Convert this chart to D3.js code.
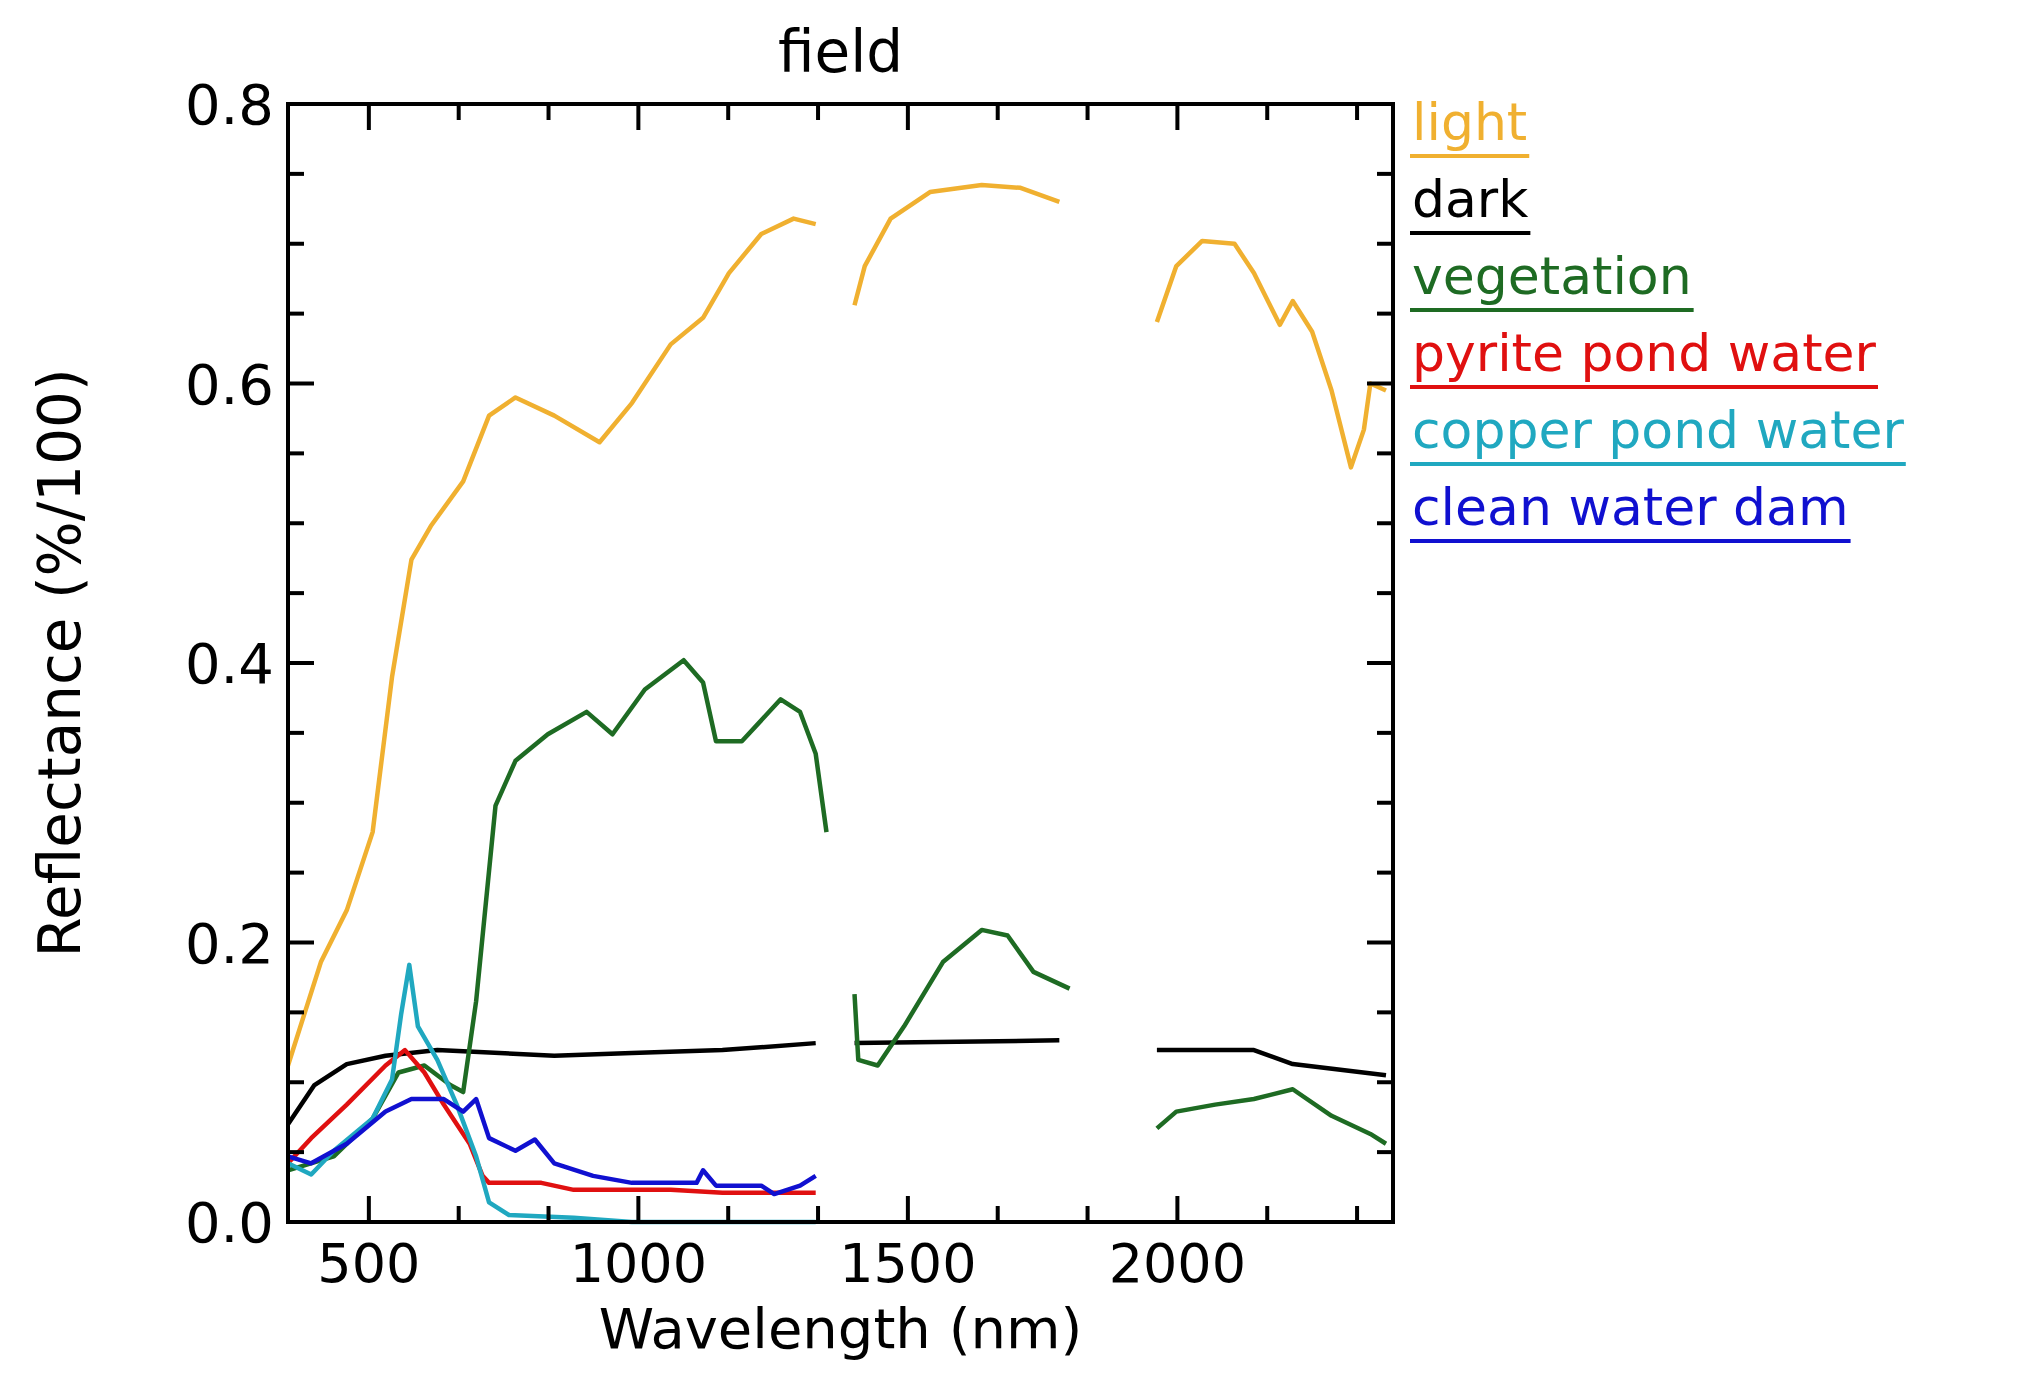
<!DOCTYPE html>
<html><head><meta charset="utf-8">
<script src="https://cdn.jsdelivr.net/npm/d3@7"></script>
<style>body{margin:0;background:#fff}text{font-family:"DejaVu Sans",sans-serif}</style>
</head><body><svg id="c" width="2037" height="1379"></svg>
<script>
// Data (wavelength nm, reflectance); null marks gaps
const lightWl = [350,411,459,507,543,579,615,675,723,772,844,928,988,1060,1120,1168,1228,1288,1329,null,1401,1420,1468,1541,1637,1709,1781,null,1962,1998,2046,2106,2142,2190,2214,2250,2286,2322,2346,2358,2387];
const lightV  = [0.112,0.186,0.223,0.279,0.39,0.474,0.498,0.53,0.577,0.59,0.577,0.558,0.586,0.628,0.647,0.679,0.707,0.718,0.714,null,0.656,0.684,0.718,0.737,0.742,0.74,0.73,null,0.644,0.684,0.702,0.7,0.679,0.642,0.659,0.637,0.595,0.54,0.567,0.6,0.595];
const darkWl = [350,399,459,531,627,844,988,1156,1329,null,1401,1781,null,1962,2142,2214,2387];
const darkV  = [0.07,0.098,0.113,0.119,0.123,0.119,0.121,0.123,0.128,null,0.128,0.13,null,0.123,0.123,0.113,0.105];
const vegWl = [350,435,507,555,603,651,675,699,735,772,832,904,952,1012,1084,1120,1144,1192,1264,1300,1329,1349,null,1401,1408,1444,1493,1565,1637,1685,1733,1800,null,1962,1998,2070,2142,2214,2286,2358,2387];
const vegV  = [0.037,0.047,0.074,0.107,0.112,0.098,0.093,0.158,0.298,0.33,0.349,0.365,0.349,0.381,0.402,0.386,0.344,0.344,0.374,0.365,0.335,0.279,null,0.163,0.116,0.112,0.14,0.186,0.209,0.205,0.179,0.167,null,0.067,0.079,0.084,0.088,0.095,0.076,0.063,0.056];
const pyriteWl = [350,393,459,531,567,603,639,687,711,723,820,880,1060,1156,1329];
const pyriteV  = [0.042,0.06,0.084,0.112,0.123,0.107,0.084,0.056,0.033,0.028,0.028,0.023,0.023,0.021,0.021];
const copperWl = [350,393,435,507,543,560,575,591,627,663,699,723,760,880,988,1329];
const copperV  = [0.042,0.034,0.051,0.074,0.102,0.149,0.184,0.14,0.116,0.084,0.047,0.014,0.005,0.003,0,0];
const cleanWl = [350,393,459,531,579,639,675,699,723,772,808,844,916,988,1108,1120,1144,1228,1252,1300,1329];
const cleanV  = [0.047,0.042,0.056,0.079,0.088,0.088,0.079,0.088,0.06,0.051,0.059,0.042,0.033,0.028,0.028,0.037,0.026,0.026,0.02,0.026,0.033];
const seriesNames = ["light","dark","vegetation","pyrite pond water","copper pond water","clean water dam"];
const seriesColors = ["#f0b030","#000000","#1e6b23","#e01010","#20a8c0","#1010d0"];
const xTicks = [500,1000,1500,2000];
const yTicks = [0.0,0.2,0.4,0.6,0.8];

const series = [[lightWl,lightV],[darkWl,darkV],[vegWl,vegV],[pyriteWl,pyriteV],[copperWl,copperV],[cleanWl,cleanV]];
const svg = d3.select("#c");
const L=288,R=1393,T=104,B=1222;
const x = d3.scaleLinear().domain([350,2400]).range([L,R]);
const y = d3.scaleLinear().domain([0,0.8]).range([B,T]);

const line = d3.line().defined(d=>d[0]!==null).x(d=>x(d[0])).y(d=>y(d[1]));
series.forEach((s,i)=>{
  const pts = s[0].map((w,j)=>[w,s[1][j]]);
  svg.append("path").attr("d",line(pts)).attr("fill","none").attr("stroke",seriesColors[i]).attr("stroke-width",4.5).attr("stroke-linejoin","round");
});

svg.append("rect").attr("x",L).attr("y",T).attr("width",R-L).attr("height",B-T).attr("fill","none").attr("stroke","#000").attr("stroke-width",4);
const xm = []; for(let v=500-500/3; v<2400; v+=500/3){ if(v>350) xm.push(v); }
xm.forEach(v=>{
  const major = xTicks.some(t=>Math.abs(t-v)<1);
  const len = major?26:16;
  svg.append("line").attr("x1",x(v)).attr("x2",x(v)).attr("y1",B).attr("y2",B-len).attr("stroke","#000").attr("stroke-width",4);
  svg.append("line").attr("x1",x(v)).attr("x2",x(v)).attr("y1",T).attr("y2",T+len).attr("stroke","#000").attr("stroke-width",4);
});
xTicks.forEach(t=>svg.append("text").attr("x",x(t)).attr("y",B+60).attr("text-anchor","middle").attr("font-size",54).text(t));
d3.range(0,0.801,0.05).forEach(v=>{
  const major = Math.abs(v/0.2-Math.round(v/0.2))<1e-6;
  const len = major?26:16;
  svg.append("line").attr("x1",L).attr("x2",L+len).attr("y1",y(v)).attr("y2",y(v)).attr("stroke","#000").attr("stroke-width",4);
  svg.append("line").attr("x1",R).attr("x2",R-len).attr("y1",y(v)).attr("y2",y(v)).attr("stroke","#000").attr("stroke-width",4);
});
yTicks.forEach(t=>svg.append("text").attr("x",L-14).attr("y",y(t)+20).attr("text-anchor","end").attr("font-size",56).text(t.toFixed(1)));
svg.append("text").attr("x",(L+R)/2).attr("y",72).attr("text-anchor","middle").attr("font-size",58).text("field");
svg.append("text").attr("x",(L+R)/2).attr("y",1348).attr("text-anchor","middle").attr("font-size",56).text("Wavelength (nm)");
svg.append("text").attr("transform",`translate(80,${(T+B)/2}) rotate(-90)`).attr("text-anchor","middle").attr("font-size",58).text("Reflectance (%/100)");
seriesNames.forEach((n,i)=>{
  const yy = 140+i*77;
  const t = svg.append("text").attr("x",1412).attr("y",yy).attr("font-size",52).attr("fill",seriesColors[i]).text(n);
  const w = t.node().getComputedTextLength();
  svg.append("line").attr("x1",1410).attr("x2",1414+w).attr("y1",yy+16).attr("y2",yy+16).attr("stroke",seriesColors[i]).attr("stroke-width",4);
});
</script></body></html>
